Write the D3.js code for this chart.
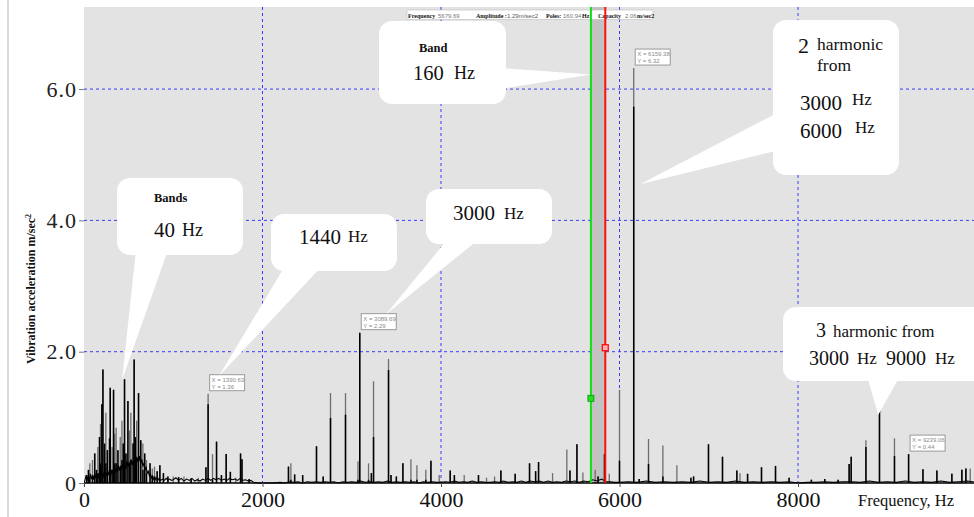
<!DOCTYPE html>
<html>
<head>
<meta charset="utf-8">
<script src="https://cdn.jsdelivr.net/npm/d3@7"></script>
<style>
  html, body { margin: 0; padding: 0; background: #ffffff; }
  svg { display: block; font-family: "Liberation Serif", "DejaVu Serif", serif; }
</style>
</head>
<body>
<svg id="chart" width="974" height="517"></svg>
<script>
// Axis ticks
const freqTicks = [0, 2000, 4000, 6000, 8000];
const ampTicks = [0, 2, 4, 6];

// Spectral lines: frequency (Hz), outer envelope amplitude and inner trace amplitude (m/sec2)
const peakHz = [
  30, 50, 65, 95, 120, 140, 155, 174, 185, 200, 212, 230, 245, 262, 286, 294, 315, 331, 345, 360,
  380, 406, 425, 440, 454, 470, 492, 510, 525, 550, 562, 575, 590, 611, 636, 660, 680, 700, 740, 765,
  790, 820, 850, 890, 940, 1000, 1060, 1120, 1200, 1280, 1366, 1390.63, 1440, 1485, 1540, 1593, 1640, 1700, 1754, 1770,
  1850, 2291, 2318, 2360, 2450, 2605, 2680, 2762, 2930, 3070, 3089.69, 3188, 3220, 3244, 3412, 3440, 3500, 3573, 3663, 3730,
  3830, 3887, 3980, 4103, 4150, 4260, 4420, 4510, 4600, 4671, 4831, 4992, 5060, 5093, 5250, 5410, 5445, 5523, 5590, 5728,
  5760, 5832, 5885, 6000, 6159.38, 6220, 6325, 6486, 6643, 6800, 6830, 6997, 7154, 7315, 7350, 7435, 7591, 7748, 7900, 8150,
  8300, 8450, 8573, 8596, 8761, 8913, 9081, 9239.06, 9400, 9556, 9724, 9836, 9881, 9930
];
const peakAmp = [
  0.12, 0.20, 0.30, 0.35, 0.45, 0.20, 0.55, 0.70, 0.90, 1.20, 1.73, 0.60, 1.07, 0.50, 0.68, 1.45, 0.55, 1.42, 0.75, 0.84,
  0.50, 0.70, 0.95, 0.60, 1.58, 0.45, 1.25, 0.80, 1.07, 0.60, 1.88, 0.70, 0.95, 1.37, 0.65, 0.60, 0.45, 0.35, 0.30, 0.22,
  0.25, 0.18, 0.27, 0.15, 0.10, 0.10, 0.09, 0.10, 0.07, 0.08, 0.24, 1.36, 0.44, 0.63, 0.12, 0.44, 0.17, 0.08, 0.45, 0.36,
  0.06, 0.25, 0.30, 0.13, 0.12, 0.56, 0.10, 1.37, 1.37, 0.33, 2.29, 0.30, 0.15, 1.55, 1.89, 0.12, 0.10, 0.30, 0.36, 0.27,
  0.20, 0.34, 0.12, 0.19, 0.12, 0.12, 0.12, 0.08, 0.10, 0.19, 0.14, 0.30, 0.18, 0.32, 0.15, 0.51, 0.19, 0.59, 0.16, 0.20,
  0.10, 0.44, 0.14, 1.42, 6.32, 0.06, 0.67, 0.57, 0.27, 0.08, 0.10, 0.59, 0.40, 0.19, 0.15, 0.14, 0.24, 0.26, 0.08, 0.05,
  0.06, 0.05, 0.29, 0.40, 0.65, 1.44, 0.68, 0.44, 0.21, 0.19, 0.14, 0.20, 0.22, 0.22
];
const peakCore = [
  0.12, 0.20, 0.08, 0.10, 0.45, 0.20, 0.15, 0.70, 0.30, 1.20, 1.73, 0.60, 0.30, 0.50, 0.68, 1.45, 0.20, 1.42, 0.30, 0.30,
  0.50, 0.25, 0.35, 0.60, 1.58, 0.45, 1.25, 0.30, 0.35, 0.60, 1.88, 0.70, 0.40, 1.37, 0.65, 0.20, 0.45, 0.15, 0.30, 0.10,
  0.10, 0.18, 0.27, 0.15, 0.10, 0.00, 0.09, 0.00, 0.07, 0.00, 0.24, 1.20, 0.05, 0.63, 0.12, 0.44, 0.17, 0.00, 0.45, 0.36,
  0.06, 0.25, 0.05, 0.13, 0.12, 0.56, 0.10, 0.99, 1.04, 0.05, 2.29, 0.05, 0.15, 0.70, 1.72, 0.12, 0.10, 0.30, 0.05, 0.05,
  0.05, 0.34, 0.00, 0.19, 0.12, 0.00, 0.12, 0.00, 0.00, 0.19, 0.14, 0.30, 0.18, 0.32, 0.00, 0.00, 0.19, 0.59, 0.00, 0.00,
  0.10, 0.44, 0.00, 0.34, 5.73, 0.06, 0.29, 0.10, 0.00, 0.08, 0.10, 0.59, 0.40, 0.19, 0.00, 0.14, 0.24, 0.26, 0.08, 0.05,
  0.06, 0.05, 0.29, 0.40, 0.55, 1.11, 0.41, 0.44, 0.21, 0.19, 0.14, 0.20, 0.22, 0.00
];

// Broadband noise floor under the spectral lines
const floorHz = [
  0, 10, 25, 35, 48, 60, 72, 84, 96, 108, 120, 132, 144, 156, 168, 180, 192, 204, 216, 228,
  240, 252, 264, 276, 288, 300, 312, 324, 336, 348, 360, 372, 384, 396, 408, 420, 432, 444, 456, 468,
  480, 492, 504, 516, 528, 540, 552, 564, 576, 588, 600, 612, 624, 636, 648, 660, 672, 684, 696, 708,
  720, 732, 744, 756, 768, 780, 792, 804, 816, 828, 840, 860, 880, 900, 920, 940, 960, 980, 1000, 1030,
  1060, 1090, 1120, 1150, 1180, 1210, 1240, 1270, 1300, 1330, 1360, 1390, 1420, 1450, 1480, 1510, 1540, 1570, 1600, 1630,
  1660, 1690, 1720, 1750, 1780, 1810, 1840, 1870, 1900, 1950, 2000, 2100, 2200, 2250, 2300, 2350, 2400, 2450, 2500, 2550,
  2600, 2650, 2700, 2750, 2800, 2850, 2900, 2950, 3000, 3050, 3100, 3150, 3200, 3250, 3300, 3350, 3400, 3450, 3500, 3550,
  3600, 3650, 3700, 3750, 3800, 3850, 3900, 3950, 4000, 4050, 4100, 4150, 4200, 4250, 4300, 4350, 4400, 4450, 4500, 4550,
  4600, 4650, 4700, 4750, 4800, 4850, 4900, 4950, 5000, 5050, 5100, 5150, 5200, 5250, 5300, 5350, 5400, 5450, 5500, 5550,
  5600, 5650, 5700, 5750, 5800, 5850, 5900, 5950, 6000, 6100, 6200, 6300, 6400, 6500, 6600, 6700, 6800, 6900, 7000, 7100,
  7200, 7300, 7400, 7500, 7600, 7700, 7800, 7900, 8000, 8100, 8200, 8300, 8400, 8500, 8600, 8700, 8800, 8900, 9000, 9100,
  9200, 9300, 9400, 9500, 9600, 9700, 9800, 9900, 10000
];
const floorAmp = [
  0.00, 0.04, 0.12, 0.05, 0.10, 0.04, 0.14, 0.06, 0.12, 0.05, 0.16, 0.07, 0.13, 0.06, 0.15, 0.08, 0.17, 0.09, 0.14, 0.07,
  0.16, 0.10, 0.20, 0.12, 0.18, 0.11, 0.20, 0.14, 0.24, 0.15, 0.22, 0.17, 0.27, 0.19, 0.25, 0.20, 0.30, 0.22, 0.28, 0.21,
  0.33, 0.24, 0.31, 0.26, 0.36, 0.27, 0.34, 0.28, 0.40, 0.30, 0.38, 0.32, 0.41, 0.30, 0.36, 0.26, 0.30, 0.20, 0.24, 0.15,
  0.18, 0.11, 0.14, 0.08, 0.11, 0.06, 0.09, 0.05, 0.08, 0.04, 0.07, 0.04, 0.06, 0.04, 0.07, 0.04, 0.06, 0.04, 0.05, 0.08,
  0.04, 0.07, 0.03, 0.06, 0.04, 0.07, 0.03, 0.05, 0.03, 0.06, 0.04, 0.07, 0.04, 0.07, 0.05, 0.07, 0.04, 0.06, 0.04, 0.07,
  0.05, 0.06, 0.04, 0.07, 0.04, 0.05, 0.03, 0.04, 0.01, 0.00, 0.00, 0.00, 0.01, 0.00, 0.02, 0.01, 0.02, 0.00, 0.02, 0.01,
  0.02, 0.01, 0.02, 0.01, 0.02, 0.00, 0.02, 0.01, 0.02, 0.01, 0.03, 0.01, 0.02, 0.01, 0.02, 0.01, 0.03, 0.01, 0.02, 0.01,
  0.02, 0.01, 0.02, 0.00, 0.02, 0.01, 0.02, 0.01, 0.01, 0.02, 0.01, 0.03, 0.01, 0.02, 0.01, 0.03, 0.01, 0.02, 0.01, 0.01,
  0.02, 0.01, 0.03, 0.01, 0.02, 0.01, 0.03, 0.01, 0.03, 0.02, 0.03, 0.01, 0.03, 0.01, 0.02, 0.01, 0.03, 0.02, 0.03, 0.01,
  0.03, 0.02, 0.05, 0.03, 0.06, 0.02, 0.02, 0.01, 0.01, 0.02, 0.01, 0.03, 0.01, 0.02, 0.01, 0.02, 0.01, 0.03, 0.01, 0.02,
  0.01, 0.03, 0.01, 0.02, 0.01, 0.02, 0.01, 0.02, 0.00, 0.01, 0.01, 0.02, 0.01, 0.02, 0.02, 0.01, 0.03, 0.01, 0.02, 0.01,
  0.03, 0.01, 0.02, 0.01, 0.03, 0.01, 0.02, 0.03, 0.01
];

// Cursor readout (band between two cursors)
const cursorHz = 5679.69;
const cursorAmp = 1.29;
const bandWidthHz = 160.94;
const capacityAmp = 2.06;

// Peak readout tags
const tagHz = [1390.63, 3089.69, 6159.38, 9239.06];
const tagAmp = [1.36, 2.29, 6.32, 0.44];

const svg = d3.select("#chart");
const W = 974, H = 517;
const plot = { left: 84, right: 976.5, top: 7, bottom: 483 };
const serif = "Liberation Serif, DejaVu Serif, serif";
const sans = "Liberation Sans, Arial, sans-serif";

const x = d3.scaleLinear().domain([0, 10000]).range([plot.left, plot.right]);
const y = d3.scaleLinear().domain([0, 7.25]).range([plot.bottom, plot.top]);

// page frame
svg.append("rect").attr("width", W).attr("height", H).attr("fill", "#ffffff");
svg.append("line").attr("x1", 8).attr("x2", 8).attr("y1", 0).attr("y2", H)
  .attr("stroke", "#dcdcdc").attr("stroke-width", 2);

// plot background
svg.append("rect")
  .attr("x", plot.left).attr("y", plot.top)
  .attr("width", W - plot.left).attr("height", plot.bottom - plot.top)
  .attr("fill", "#e3e3e3");

svg.append("clipPath").attr("id", "plotClip").append("rect")
  .attr("x", plot.left).attr("y", plot.top)
  .attr("width", W - plot.left).attr("height", plot.bottom - plot.top + 1);

const inner = svg.append("g").attr("clip-path", "url(#plotClip)");

// grid
inner.selectAll("line.hgrid").data(ampTicks.filter(d => d > 0)).join("line")
  .attr("class", "hgrid")
  .attr("x1", plot.left).attr("x2", W)
  .attr("y1", d => y(d)).attr("y2", d => y(d))
  .attr("stroke", "#3a3aff").attr("stroke-width", 1).attr("stroke-dasharray", "3,3");
inner.selectAll("line.vgrid").data(freqTicks.filter(d => d > 0)).join("line")
  .attr("class", "vgrid")
  .attr("x1", d => x(d)).attr("x2", d => x(d))
  .attr("y1", plot.top).attr("y2", plot.bottom)
  .attr("stroke", "#3a3aff").attr("stroke-width", 1).attr("stroke-dasharray", "3,3");

// band between cursors
inner.append("rect")
  .attr("x", x(cursorHz)).attr("y", plot.top)
  .attr("width", x(cursorHz + bandWidthHz) - x(cursorHz))
  .attr("height", plot.bottom - plot.top)
  .attr("fill", "#c2c2c2");

// spectral lines: outer envelope (grey) then inner trace (black)
const peaks = peakHz.map((f, i) => ({ f, a: peakAmp[i], c: peakCore[i] }));
inner.selectAll("line.outer").data(peaks).join("line")
  .attr("class", "outer")
  .attr("x1", d => x(d.f)).attr("x2", d => x(d.f))
  .attr("y1", y(0)).attr("y2", d => y(d.a))
  .attr("stroke", "#6e6e6e").attr("stroke-width", 1.3);
inner.selectAll("line.core").data(peaks.filter(d => d.c > 0)).join("line")
  .attr("class", "core")
  .attr("x1", d => x(d.f)).attr("x2", d => x(d.f))
  .attr("y1", y(0)).attr("y2", d => y(d.c))
  .attr("stroke", "#000000").attr("stroke-width", 1.5);

// noise floor
const floorPts = floorHz.map((f, i) => [f, floorAmp[i]]);
inner.append("path")
  .datum(floorPts)
  .attr("d", d3.line().x(d => x(d[0])).y(d => y(d[1])))
  .attr("fill", "none").attr("stroke", "#000").attr("stroke-width", 1.1);
inner.append("line")
  .attr("x1", x(0)).attr("x2", W).attr("y1", y(0)).attr("y2", y(0))
  .attr("stroke", "#000").attr("stroke-width", 1.5);

// readout info strip
const info = svg.append("g");
info.append("rect").attr("x", 407).attr("y", 10).attr("width", 246).attr("height", 9.5)
  .attr("fill", "#ffffff").attr("stroke", "#bdbdbd").attr("stroke-width", 0.6);
const infoParts = [
  { t: "Frequency", x: 408, c: "#111", w: "bold", f: serif },
  { t: d3.format(".2f")(cursorHz), x: 438, c: "#777", w: "normal", f: sans },
  { t: "Amplitude :", x: 476, c: "#111", w: "bold", f: serif },
  { t: d3.format(".2f")(cursorAmp) + "m/sec2", x: 507, c: "#555", w: "normal", f: sans },
  { t: "Poles:", x: 546, c: "#111", w: "bold", f: serif },
  { t: d3.format(".2f")(bandWidthHz), x: 563, c: "#777", w: "normal", f: sans },
  { t: "Hz", x: 582, c: "#111", w: "bold", f: serif },
  { t: "Capacity", x: 598, c: "#111", w: "bold", f: serif },
  { t: d3.format(".2f")(capacityAmp), x: 625, c: "#777", w: "normal", f: sans },
  { t: "m/sec2", x: 637, c: "#111", w: "bold", f: serif }
];
info.selectAll("text").data(infoParts).join("text")
  .attr("x", d => d.x).attr("y", 17.5)
  .style("font-family", d => d.f).style("font-size", "6px")
  .attr("font-weight", d => d.w).attr("fill", d => d.c)
  .text(d => d.t);

// cursors
svg.append("line")
  .attr("x1", x(cursorHz)).attr("x2", x(cursorHz)).attr("y1", plot.top).attr("y2", plot.bottom)
  .attr("stroke", "#10e010").attr("stroke-width", 2);
svg.append("line")
  .attr("x1", x(cursorHz + bandWidthHz)).attr("x2", x(cursorHz + bandWidthHz)).attr("y1", plot.top).attr("y2", plot.bottom)
  .attr("stroke", "#ff1010").attr("stroke-width", 2);
svg.append("rect")
  .attr("x", x(cursorHz) - 3).attr("y", y(cursorAmp) - 3).attr("width", 6).attr("height", 6)
  .attr("fill", "#20e020").attr("stroke", "#0a900a").attr("stroke-width", 0.8);
svg.append("rect")
  .attr("x", x(cursorHz + bandWidthHz) - 3).attr("y", y(capacityAmp) - 3).attr("width", 6).attr("height", 6)
  .attr("fill", "#ffb0b0").attr("stroke", "#ff0000").attr("stroke-width", 1.2);

// peak readout tags
const tags = tagHz.map((f, i) => ({ f, a: tagAmp[i] }));
const tagG = svg.selectAll("g.tag").data(tags).join("g").attr("class", "tag")
  .attr("transform", d => `translate(${x(d.f) + 1.5},${y(d.a) - 19})`);
tagG.append("rect").attr("width", 35).attr("height", 16)
  .attr("fill", "#ffffff").attr("stroke", "#9a9a9a").attr("stroke-width", 1);
tagG.append("text").attr("x", 2).attr("y", 7)
  .style("font-family", sans).style("font-size", "6px")
  .attr("fill", "#8a8a8a").text(d => "X = " + d3.format(".2f")(d.f));
tagG.append("text").attr("x", 2).attr("y", 14)
  .style("font-family", sans).style("font-size", "6px")
  .attr("fill", "#8a8a8a").text(d => "Y = " + d3.format(".2f")(d.a));

// axes
const yAxis = d3.axisLeft(y).tickValues(ampTicks).tickSize(5).tickPadding(2)
  .tickFormat(d => d === 0 ? "0" : d3.format(".1f")(d));
const gy = svg.append("g").attr("transform", `translate(${plot.left},0)`).call(yAxis);
gy.select(".domain").remove();
gy.selectAll(".tick line").attr("stroke", "#555").attr("stroke-width", 0.8);
gy.selectAll(".tick text")
  .style("font-family", serif).style("font-size", "22px").attr("fill", "#222")
  .attr("letter-spacing", 1);

const xAxis = d3.axisBottom(x).tickValues(freqTicks).tickSize(4).tickPadding(4)
  .tickFormat(d3.format("d"));
const gx = svg.append("g").attr("transform", `translate(0,${plot.bottom})`).call(xAxis);
gx.select(".domain").remove();
gx.selectAll(".tick line").attr("stroke", "#555");
gx.selectAll(".tick text")
  .style("font-family", serif).style("font-size", "22px").attr("fill", "#111");

svg.append("text").attr("x", 858).attr("y", 506)
  .style("font-family", serif).style("font-size", "16.5px").attr("fill", "#111").text("Frequency, Hz");

const yTitle = svg.append("text")
  .attr("transform", "translate(35,289) rotate(-90)")
  .attr("text-anchor", "middle")
  .style("font-family", serif).style("font-size", "12px")
  .attr("font-weight", "bold").attr("fill", "#111");
yTitle.append("tspan").text("Vibration acceleration m/sec");
yTitle.append("tspan").attr("dy", -4).style("font-size", "8px").text("2");

// speech-bubble annotations
function bubble(box, base, tip, parts) {
  const g = svg.append("g");
  const [bx, by, bw, bh] = box;
  g.append("path")
    .attr("d", `M${base[0][0]},${base[0][1]}L${x(tip[0])},${y(tip[1])}L${base[1][0]},${base[1][1]}Z`)
    .attr("fill", "#ffffff");
  g.append("rect").attr("x", bx).attr("y", by).attr("width", bw).attr("height", bh)
    .attr("rx", 13).attr("ry", 13).attr("fill", "#ffffff");
  g.selectAll("text").data(parts).join("text")
    .attr("x", d => d.x).attr("y", d => d.y)
    .style("font-family", serif).style("font-size", d => d.s + "px")
    .attr("font-weight", d => d.b ? "bold" : "normal")
    .attr("fill", "#111").text(d => d.t);
}

bubble([117, 178, 126, 77], [[136, 250], [168, 250]], [426, 1.57], [
  { t: "Bands", x: 154, y: 202, s: 12.5, b: true },
  { t: "40", x: 154, y: 237, s: 21 },
  { t: "Hz", x: 182, y: 236, s: 18 }
]);
bubble([271, 214, 126, 57], [[285, 266], [322, 266]], [1513, 1.63], [
  { t: "1440", x: 299, y: 244, s: 21 },
  { t: "Hz", x: 348, y: 242, s: 17 }
]);
bubble([426, 189, 126, 55], [[447, 240], [478, 240]], [3384, 2.57], [
  { t: "3000", x: 453, y: 220, s: 21 },
  { t: "Hz", x: 504, y: 219, s: 17 }
]);
bubble([379, 21, 127, 83], [[500, 68], [500, 89]], [cursorHz, 6.22], [
  { t: "Band", x: 419, y: 52, s: 12.5, b: true },
  { t: "160", x: 413, y: 80, s: 20.5 },
  { t: "Hz", x: 454, y: 79, s: 18 }
]);
bubble([773, 20, 126, 155], [[779, 112], [779, 150]], [6230, 4.55], [
  { t: "2", x: 798, y: 53, s: 22 },
  { t: "harmonic", x: 817, y: 50, s: 17.5 },
  { t: "from", x: 817, y: 71, s: 17.5 },
  { t: "3000", x: 800, y: 110, s: 21 },
  { t: "Hz", x: 852, y: 105, s: 17 },
  { t: "6000", x: 800, y: 138, s: 21 },
  { t: "Hz", x: 855, y: 133, s: 17 }
]);
bubble([783, 307, 210, 74], [[867, 376], [900, 376]], [8900, 1.04], [
  { t: "3", x: 816, y: 337, s: 20 },
  { t: "harmonic from", x: 833, y: 337, s: 17 },
  { t: "3000", x: 809, y: 365, s: 20 },
  { t: "Hz", x: 857, y: 364, s: 17 },
  { t: "9000", x: 886, y: 365, s: 20 },
  { t: "Hz", x: 935, y: 364, s: 17 }
]);
</script>
</body>
</html>
